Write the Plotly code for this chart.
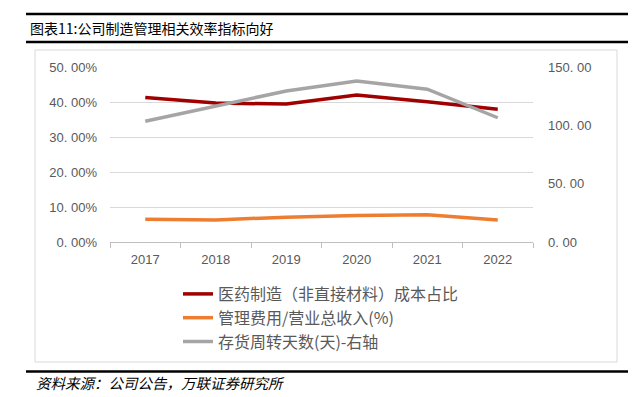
import plotly.graph_objects as go

years = ["2017", "2018", "2019", "2020", "2021", "2022"]
mfg_cost_ratio = [41.3, 39.7, 39.4, 42.0, 40.1, 37.9]      # %
admin_expense_ratio = [6.5, 6.3, 7.1, 7.6, 7.8, 6.3]        # %
inventory_days = [103.5, 116.5, 129.5, 138.0, 131.0, 106.5]  # days, right axis

names = ["医药制造（非直接材料）成本占比", "管理费用/营业总收入(%)", "存货周转天数(天)-右轴"]
left_ticks = [0, 10, 20, 30, 40, 50]
left_tick_text = ["0. 00%", "10. 00%", "20. 00%", "30. 00%", "40. 00%", "50. 00%"]
right_ticks = [0, 50, 100, 150]
right_tick_text = ["0. 00", "50. 00", "100. 00", "150. 00"]

# page body has an 8px margin; lay out in page pixels and offset
OFF = 8
W, H = 642 - OFF, 397 - OFF
L, R, T, B = 110, 533, 67, 242  # plot area in page pixels

def px(x):
    return (x - L) / (R - L)

def py(y):
    return (B - y) / (B - T)

CJK = "Noto Sans CJK SC"
GRAY_TXT = "#595959"

fig = go.Figure()
fig.add_trace(go.Scatter(x=years, y=mfg_cost_ratio, name=names[0], mode="lines",
                         line=dict(color="#A00000", width=3.5), legendgroup="a"))
fig.add_trace(go.Scatter(x=years, y=admin_expense_ratio, name=names[1], mode="lines",
                         line=dict(color="#ED7D31", width=3.5), legendgroup="b"))
fig.add_trace(go.Scatter(x=years, y=inventory_days, name=names[2], mode="lines",
                         line=dict(color="#A5A5A5", width=3.5), legendgroup="c", yaxis="y2"))

shapes = [
    dict(type="line", xref="paper", yref="paper", x0=px(26), x1=px(628), y0=py(14), y1=py(14),
         line=dict(color="black", width=2.5)),
    dict(type="line", xref="paper", yref="paper", x0=px(26), x1=px(628), y0=py(42), y1=py(42),
         line=dict(color="black", width=2.5)),
    dict(type="rect", xref="paper", yref="paper", x0=px(35), x1=px(617), y0=py(50), y1=py(362),
         line=dict(color="#d9d9d9", width=1), layer="below"),
    dict(type="line", xref="paper", yref="paper", x0=px(26), x1=px(628), y0=py(371.5), y1=py(371.5),
         line=dict(color="black", width=2.5)),
]

annotations = [
    dict(text="图表11:公司制造管理相关效率指标向好", xref="paper", yref="paper",
         x=px(28), y=py(28), xanchor="left", yanchor="middle", showarrow=False,
         font=dict(family=CJK, size=14, color="black")),
    dict(text="<i>资料来源：公司公告，万联证券研究所</i>", xref="paper", yref="paper",
         x=px(34), y=py(382), xanchor="left", yanchor="middle", showarrow=False,
         font=dict(family=CJK, size=14.5, color="black")),
]

fig.update_layout(
    width=W, height=H,
    margin=dict(l=L - OFF, r=642 - R, t=T - OFF, b=397 - B, pad=0),
    paper_bgcolor="white", plot_bgcolor="white",
    font=dict(family="Liberation Sans, Arial", color=GRAY_TXT, size=13),
    showlegend=True,
    legend=dict(x=px(178), y=py(277), xanchor="left", yanchor="top",
                orientation="v", tracegroupgap=0, itemwidth=30,
                font=dict(family=CJK, size=16, color=GRAY_TXT),
                bgcolor="rgba(0,0,0,0)"),
    xaxis=dict(type="category", range=[-0.5, 5.5], showgrid=False, zeroline=False,
               showline=True, linecolor="#bfbfbf", linewidth=1,
               ticks="outside", tickson="boundaries", ticklen=5, tickcolor="#bfbfbf",
               ticklabelstandoff=5, tickfont=dict(size=13, color=GRAY_TXT)),
    yaxis=dict(range=[0, 50], tickvals=left_ticks, ticktext=left_tick_text,
               showgrid=True, gridcolor="#d9d9d9", gridwidth=1, zeroline=False,
               ticks="", ticklabelstandoff=12, tickfont=dict(size=13, color=GRAY_TXT)),
    yaxis2=dict(range=[0, 150], tickvals=right_ticks, ticktext=right_tick_text,
                overlaying="y", side="right", showgrid=False, zeroline=False,
                ticks="", ticklabelstandoff=14, tickfont=dict(size=13, color=GRAY_TXT)),
    shapes=shapes,
    annotations=annotations,
)

fig.write_html("out.html")
